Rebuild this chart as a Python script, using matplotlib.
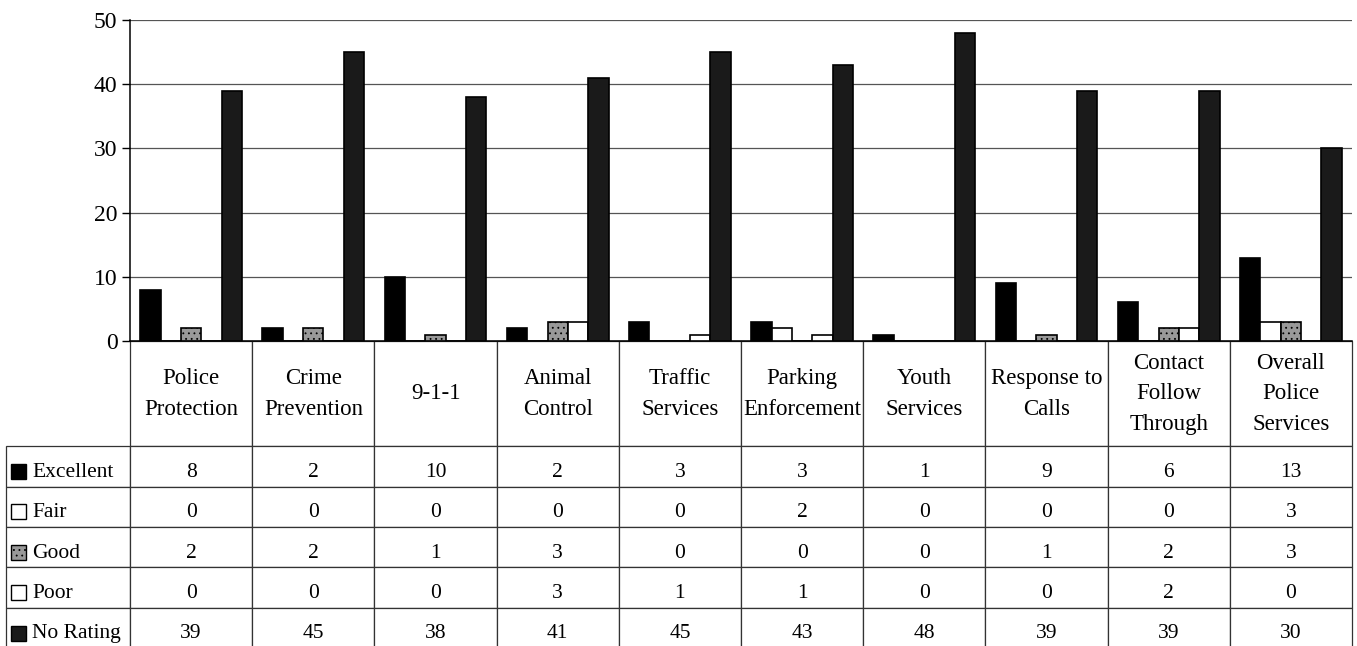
import numpy as np
import matplotlib
matplotlib.use("Agg")
import matplotlib.pyplot as plt
from matplotlib.table import Table
from matplotlib.patches import Rectangle
from matplotlib.transforms import Affine2D

plt.rcParams['font.family'] = ['Liberation Serif', 'DejaVu Serif']
plt.rcParams['hatch.linewidth'] = 0.6

categories = ["Police\nProtection", "Crime\nPrevention", "9-1-1", "Animal\nControl",
              "Traffic\nServices", "Parking\nEnforcement", "Youth\nServices",
              "Response to\nCalls", "Contact\nFollow\nThrough", "Overall\nPolice\nServices"]
series = ["Excellent", "Fair", "Good", "Poor", "No Rating"]
excellent = [8, 2, 10, 2, 3, 3, 1, 9, 6, 13]
fair = [0, 0, 0, 0, 0, 2, 0, 0, 0, 3]
good = [2, 2, 1, 3, 0, 0, 0, 1, 2, 3]
poor = [0, 0, 0, 3, 1, 1, 0, 0, 2, 0]
no_rating = [39, 45, 38, 41, 45, 43, 48, 39, 39, 30]
values = [excellent, fair, good, poor, no_rating]

# bar styles: facecolor, hatch
styles = [('black', None), ('white', None), ('#999999', '...'),
          ('white', None), ('#1a1a1a', None)]

W, H = 1357, 646
fig = plt.figure(figsize=(W / 100, H / 100), dpi=100)
ax_l, ax_r, ax_t, ax_b = 130, 1352, 20, 341
ax = fig.add_axes([ax_l / W, 1 - ax_b / H, (ax_r - ax_l) / W, (ax_b - ax_t) / H])
aw, ah = ax_r - ax_l, ax_b - ax_t

n = len(categories)
x = np.arange(n)
bw = 1 / 6
for j, (vals, (fc, hatch)) in enumerate(zip(values, styles)):
    ax.bar(x + (j + 1) * bw, vals, width=bw, color=fc, edgecolor='black',
           linewidth=1.2, hatch=hatch, zorder=3)

ax.set_xlim(0, n)
ax.set_ylim(0, 50)
ax.set_yticks(range(0, 51, 10))
ax.set_xticks([])
ax.yaxis.grid(True, color='#555555', linewidth=0.9)
ax.set_axisbelow(True)
ax.tick_params(axis='y', length=6, width=1, labelsize=17, pad=3)
for s in ['top', 'right']:
    ax.spines[s].set_visible(False)
ax.spines['left'].set_linewidth(1.1)
ax.spines['bottom'].set_linewidth(1.1)

# data table below the axes (sizes in axes fractions)
tab_bot = 648
head_h, row_h = 106, 40.5
lab_w, col_w = ax_l - 6, aw / n
tbl = Table(ax, bbox=[0, (ax_b - tab_bot) / ah, 1, (tab_bot - ax_b) / ah])
header_cells = []
for c in range(n):
    cell = tbl.add_cell(0, c, width=col_w / aw, height=head_h / ah,
                        text=categories[c], loc='center')
    header_cells.append(cell)
for r, name in enumerate(series):
    cell = tbl.add_cell(r + 1, -1, width=lab_w / aw, height=row_h / ah, text=name, loc='left')
    cell.PAD = 0.21
    cell.get_text().set_transform(Affine2D().translate(0, -6))
    for c in range(n):
        cell = tbl.add_cell(r + 1, c, width=col_w / aw, height=row_h / ah,
                            text=str(values[r][c]), loc='center')
        cell.get_text().set_transform(Affine2D().translate(0, -6))
for cell in tbl.get_celld().values():
    cell.set_edgecolor('#333333')
    cell.set_linewidth(0.9)
tbl.auto_set_font_size(False)
tbl.set_fontsize(15.5)
for cell in header_cells:
    cell.get_text().set_fontsize(16.5)
    cell.get_text().set_linespacing(1.6)
ax.add_table(tbl)

# legend keys in the row labels
key = 15
for r, (fc, hatch) in enumerate(styles):
    yc = ax_b + head_h + row_h * (r + 0.5) + 4
    ax.add_patch(Rectangle(((11 - ax_l) / aw, (ax_b - yc - key / 2) / ah), key / aw, key / ah,
                           transform=ax.transAxes, facecolor=fc, edgecolor='black',
                           linewidth=1.0, hatch=hatch, clip_on=False, zorder=5))

fig.savefig("out.png", dpi=100)
